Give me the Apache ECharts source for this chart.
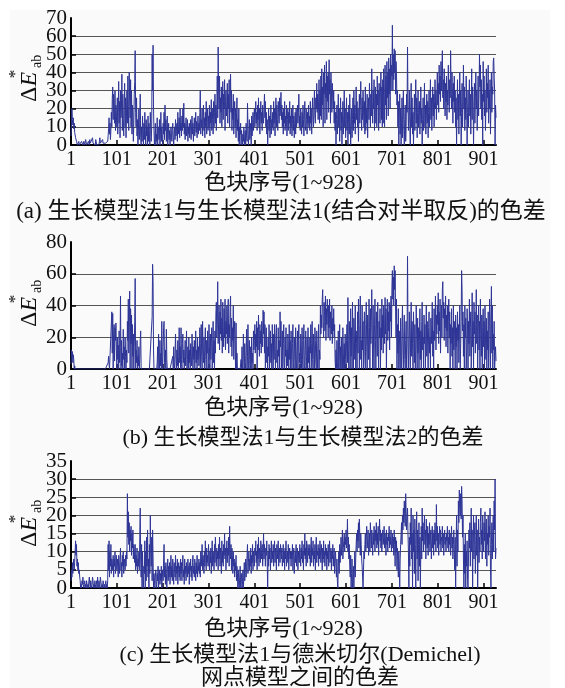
<!DOCTYPE html>
<html>
<head>
<meta charset="utf-8">
<script src="https://cdn.jsdelivr.net/npm/echarts@6/dist/echarts.min.js"></script>
<style>
html, body { margin: 0; padding: 0; background: #fff; }
#main { width: 565px; height: 688px; }
</style>
</head>
<body>
<div id="main"></div>
<script>
// 色块序号 1~928
var blockIds = [];
for (var i = 1; i <= 928; i++) blockIds.push(String(i));

// (a) 生长模型法1与生长模型法1(结合对半取反)
var dEa = [
  5,12,20,14,11,15,9,12,7,8,4,5,2,1,0,1,0,2,0,1,
  0,1,0,2,3,1,0,0,2,1,0,1,3,2,0,1,0,0,2,1,
  0,3,1,0,1,2,0,4,1,0,0,2,1,0,3,2,0,1,0,0,
  1,0,2,4,1,0,0,1,0,3,1,0,0,2,0,1,0,0,1,0,
  2,5,9,15,6,12,3,8,18,10,25,32,14,28,20,12,30,8,22,16,
  10,26,6,18,35,12,24,4,30,15,20,39,8,28,14,5,22,34,10,26,
  4,16,30,12,38,20,8,40,25,15,36,10,30,6,22,18,2,12,28,35,
  52,18,10,26,5,14,0,8,20,3,12,28,4,0,10,2,16,6,0,12,
  3,18,8,0,14,5,10,0,16,2,12,6,0,18,8,2,10,50,30,55,
  20,8,0,4,12,0,6,2,15,0,8,10,3,14,0,6,18,2,10,4,
  0,12,6,18,3,22,8,14,2,10,16,0,5,12,3,8,0,4,10,6,
  2,8,12,4,0,6,10,3,14,5,8,12,2,18,6,10,15,4,20,8,
  12,5,16,8,20,10,23,6,12,3,10,15,5,8,14,2,10,6,12,4,
  8,14,3,10,16,6,12,2,9,15,5,11,18,7,13,4,10,16,6,12,
  8,18,30,6,14,10,20,5,12,22,8,15,4,18,10,24,6,14,20,8,
  16,10,22,5,18,12,25,8,20,14,6,24,10,18,28,12,22,8,20,38,
  15,54,30,20,38,12,26,18,32,10,22,35,14,28,20,36,8,24,30,16,
  22,34,12,28,20,36,10,26,39,18,30,8,20,14,28,6,18,24,10,20,
  4,16,26,8,14,2,20,0,10,6,12,0,8,3,0,6,2,10,0,4,
  8,0,12,5,2,23,10,0,6,14,3,8,12,0,16,5,10,18,8,14,
  20,10,16,24,12,18,8,22,14,26,10,20,6,16,24,12,18,8,22,15,
  12,20,28,15,24,10,18,6,14,0,10,20,8,16,4,12,22,6,14,10,
  18,8,24,12,20,5,16,26,10,22,14,8,24,18,12,26,16,20,29,14,
  22,10,18,6,20,12,24,8,16,10,22,5,14,20,8,18,12,24,6,16,
  10,20,5,14,22,8,16,4,12,18,6,20,10,15,22,12,18,28,10,16,
  8,20,12,6,18,10,22,14,5,16,24,10,8,20,14,6,18,12,22,10,
  16,8,24,12,20,6,18,26,14,10,22,30,16,12,26,20,34,18,28,14,
  24,36,12,30,16,38,14,42,22,32,10,40,28,44,12,34,26,46,14,38,
  24,40,18,47,28,36,12,40,30,18,34,26,20,30,12,24,8,18,0,14,
  22,6,16,28,10,20,2,14,26,8,18,0,12,24,6,16,30,10,20,4,
  14,26,8,18,0,12,22,6,28,16,0,10,20,4,14,26,8,30,12,22,
  6,18,32,14,24,10,20,2,16,28,12,22,35,18,8,26,14,30,20,10,
  24,6,32,8,20,12,28,4,18,26,14,34,22,10,28,16,42,24,12,30,
  20,36,8,26,32,12,28,10,38,22,30,8,34,26,12,30,40,14,32,10,
  36,12,42,28,10,44,22,38,14,46,26,40,16,48,28,42,20,50,30,44,
  38,66,30,50,36,53,40,52,28,46,38,22,30,10,24,0,16,28,6,20,
  0,12,26,4,18,30,8,0,14,22,2,10,28,18,54,24,8,16,30,12,
  0,20,34,10,26,6,18,0,14,28,8,22,36,12,26,4,18,30,10,20,
  24,6,16,32,12,20,0,14,26,8,18,34,10,22,6,16,28,12,24,4,
  18,30,10,22,36,14,26,8,20,32,16,28,10,24,36,20,30,14,26,40,
  22,34,18,44,28,38,24,46,30,40,52,26,36,20,42,30,16,34,24,38,
  14,30,22,44,28,18,36,26,52,32,20,40,28,12,34,24,38,18,30,10,
  26,0,20,36,14,28,6,22,40,16,30,0,18,34,10,24,44,20,32,8,
  26,14,38,22,0,18,30,10,24,36,16,28,6,20,42,14,32,24,0,18,
  34,12,26,40,20,30,8,22,38,16,28,50,32,44,20,36,14,28,0,46,
  24,38,16,30,8,22,42,18,34,26,44,12,30,20,36,6,24,40,18,32,
  28,46,48,38,30,0,22,15
];

// (b) 生长模型法1与生长模型法2
var dEb = [
  3,12,8,11,4,9,6,0,2,0,0,0,0,0,0,0,0,0,0,0,
  0,0,0,0,0,0,0,0,0,0,0,0,0,0,0,0,0,0,0,0,
  0,0,0,0,0,0,0,0,0,0,0,0,0,0,0,0,0,0,0,0,
  0,0,0,0,0,0,0,0,0,0,0,0,0,0,0,0,0,0,0,0,
  0,4,8,3,0,0,0,0,0,36,10,35,0,22,28,5,26,18,29,12,
  0,20,6,15,0,24,4,12,46,0,18,2,10,0,25,6,14,0,20,8,
  0,12,4,30,18,44,10,26,49,0,38,16,34,0,28,8,22,0,14,30,
  57,0,12,4,18,0,8,2,14,0,6,18,24,0,0,0,0,0,0,0,
  0,0,0,0,0,0,0,0,0,0,0,0,0,0,0,0,0,33,66,55,
  12,0,0,0,0,0,0,0,4,14,0,22,6,0,18,2,10,0,30,8,
  0,14,26,30,4,0,12,0,25,6,0,0,0,0,0,0,0,0,0,0,
  0,0,8,0,14,4,0,10,22,6,0,12,2,18,0,8,26,4,14,0,
  26,6,0,16,22,4,12,0,8,18,2,10,24,0,6,14,0,20,4,12,
  0,16,8,2,22,10,0,14,6,18,0,8,24,4,12,0,20,6,14,2,
  10,26,0,16,28,8,0,30,12,4,20,0,14,26,6,0,18,10,24,0,
  8,28,14,0,22,6,16,26,0,12,30,4,18,0,24,10,34,42,20,28,
  55,16,30,40,12,36,22,44,18,32,10,42,26,14,38,20,44,12,30,22,
  40,16,34,44,10,28,20,38,46,14,32,8,26,18,40,6,22,30,12,0,
  29,0,10,0,0,0,0,0,0,0,0,6,0,14,2,0,22,8,0,16,
  4,0,12,25,0,8,28,2,0,18,6,0,14,0,20,4,10,0,24,12,
  18,28,10,22,14,30,0,26,12,34,18,8,28,16,24,10,30,20,14,37,
  22,36,10,28,0,18,26,4,14,0,20,8,28,0,12,24,4,16,0,28,
  10,0,22,6,28,14,0,20,28,4,12,0,26,8,18,0,36,14,30,0,
  10,24,0,16,28,4,0,20,8,26,0,12,2,22,14,0,28,6,18,0,
  24,10,0,16,28,4,0,20,12,0,26,6,0,14,24,0,18,28,4,10,
  0,22,14,0,26,6,0,18,28,2,0,12,24,0,8,20,0,26,4,14,
  0,20,10,28,0,16,30,6,0,22,12,0,26,18,4,0,24,10,0,16,
  28,0,12,6,40,22,34,26,44,50,30,20,42,36,24,46,18,38,28,44,
  32,20,40,26,44,18,36,28,22,40,16,32,24,38,20,28,6,0,12,0,
  18,4,0,24,0,8,28,0,14,0,20,2,0,26,10,0,16,0,22,6,
  0,18,28,4,45,12,0,30,20,0,38,8,26,0,42,14,0,32,20,6,
  40,0,24,16,0,36,10,44,22,0,28,46,6,18,0,40,12,30,0,24,
  36,8,0,28,42,14,0,34,20,6,44,26,0,38,16,30,50,22,0,40,
  12,0,28,44,18,0,36,24,8,42,14,0,30,20,38,0,26,12,44,20,
  34,10,40,28,16,45,22,38,0,30,44,18,36,24,42,12,40,30,46,20,
  52,62,44,58,40,65,50,62,36,20,44,0,28,10,38,0,24,14,0,32,
  8,0,26,40,12,0,22,34,6,0,18,30,0,16,71,28,0,12,36,20,
  0,24,42,8,30,16,0,36,20,4,28,0,14,40,22,0,32,10,26,0,
  18,38,6,24,0,30,42,12,20,0,34,16,28,0,22,40,8,30,14,0,
  26,36,10,20,0,32,16,28,42,8,24,0,38,18,30,46,12,34,22,40,
  28,48,16,36,24,44,10,30,40,20,50,55,32,42,18,38,26,46,14,34,
  24,40,10,30,44,20,36,0,28,16,38,8,26,0,40,12,30,20,0,34,
  14,26,0,36,18,28,4,22,40,0,16,30,62,50,24,36,8,28,0,40,
  20,32,0,12,38,24,0,30,16,44,8,26,36,0,20,48,14,30,0,42,
  22,36,10,28,50,16,34,0,24,40,12,30,0,44,20,8,34,0,26,38,
  14,30,0,40,20,6,32,0,24,12,36,0,18,44,28,0,34,52,10,40,
  0,22,12,30,0,8,14,5
];

// (c) 生长模型法1与德米切尔(Demichel)网点模型
var dEc = [
  2,5,3,7,4,6,8,5,7,10,13,9,12,6,8,5,7,4,5,3,
  2,0,1,0,2,1,3,1,0,1,2,0,1,0,2,1,0,1,0,2,
  3,1,0,2,1,0,1,3,2,0,1,0,2,1,0,1,2,0,3,1,
  0,2,1,0,3,2,1,0,1,0,2,1,0,1,0,1,2,0,1,0,
  2,12,5,13,3,10,6,12,4,8,7,5,9,3,8,6,10,4,7,9,
  5,8,6,3,9,7,4,8,11,5,7,3,9,6,10,4,8,7,5,9,
  6,10,8,26,14,21,12,18,10,16,13,17,9,15,11,16,8,12,10,7,
  12,5,9,6,11,4,8,6,10,5,14,22,8,3,12,0,10,2,0,6,
  4,13,0,10,2,14,6,16,3,8,0,12,4,20,10,6,14,2,16,8,
  0,4,2,0,3,5,1,0,4,2,6,0,3,5,1,4,2,6,0,3,
  5,2,8,12,3,6,1,7,4,0,5,8,2,6,3,7,1,5,9,3,
  6,2,8,4,1,7,5,3,9,2,6,4,8,1,5,7,3,6,2,8,
  4,7,2,6,9,3,5,1,8,4,6,2,7,5,3,8,4,6,1,7,
  5,8,3,6,2,7,9,4,6,3,8,5,2,7,4,9,3,6,5,8,
  4,7,3,10,6,8,12,5,9,7,4,10,6,13,8,5,11,7,9,6,
  12,8,5,10,7,11,4,9,13,6,10,8,5,12,7,14,9,6,11,8,
  10,5,12,8,14,6,11,9,4,13,7,10,6,12,9,15,8,11,5,10,
  13,7,11,9,14,6,17,10,8,12,5,11,9,4,10,6,8,3,7,5,
  9,2,6,4,0,5,1,0,3,6,0,2,4,0,1,5,0,3,7,2,
  5,8,3,6,9,12,4,7,10,5,8,6,11,4,9,7,12,5,10,8,
  6,11,9,13,7,10,5,12,8,14,6,11,9,7,13,10,8,12,6,9,
  15,8,12,10,6,11,9,13,7,0,10,6,12,8,11,5,9,13,7,10,
  8,12,6,10,13,7,11,9,5,12,8,10,13,6,9,11,7,12,10,8,
  11,6,9,12,7,10,5,11,8,13,6,9,10,7,12,5,9,11,8,10,
  6,10,8,12,5,9,11,4,8,10,7,12,6,9,11,5,10,8,7,12,
  9,6,11,8,13,7,10,5,12,9,15,8,11,6,13,10,7,12,9,11,
  8,12,6,10,14,7,11,9,13,6,10,8,12,5,11,14,7,10,9,12,
  6,11,8,13,10,7,12,9,5,11,8,13,7,10,6,12,9,11,5,10,
  8,12,6,10,13,7,9,11,5,10,8,12,6,9,11,4,8,10,6,3,
  8,2,0,6,10,4,12,7,10,14,9,12,16,8,11,13,15,10,14,12,
  16,11,13,19,10,14,8,12,6,3,9,0,4,8,0,2,6,0,5,10,
  3,8,12,15,10,16,13,18,11,19,14,9,15,12,8,6,3,0,5,10,
  8,12,15,10,14,17,11,13,16,9,12,15,10,18,14,11,16,13,9,15,
  12,17,14,10,16,13,18,11,15,12,17,9,14,19,13,16,11,15,10,14,
  16,12,14,17,11,15,13,9,16,12,14,10,15,13,17,11,14,12,16,10,
  13,15,11,14,9,16,12,6,14,10,13,5,11,8,3,10,6,0,8,12,
  15,18,12,20,16,22,18,24,20,17,26,21,16,19,22,15,10,0,14,6,
  18,12,22,8,15,0,20,10,16,4,19,12,0,14,21,8,16,2,12,18,
  6,14,0,10,17,8,22,13,18,10,15,20,12,16,8,19,14,11,17,9,
  15,12,18,10,14,16,8,13,17,11,15,9,16,12,18,14,10,23,13,17,
  11,15,9,14,17,12,16,10,14,13,17,11,15,9,13,16,12,14,10,15,
  13,17,11,14,10,16,12,15,9,13,17,11,14,8,12,16,10,5,14,0,
  12,20,6,16,10,24,18,27,22,20,26,19,28,24,14,20,8,0,12,4,
  15,0,10,6,13,2,0,8,16,11,18,6,14,22,10,16,0,12,20,8,
  15,18,4,12,20,9,16,0,11,19,7,14,10,18,22,12,16,8,20,14,
  10,18,13,21,8,16,19,6,15,12,20,9,17,14,22,5,0,12,18,8,
  15,20,10,24,16,30,8,11
];

var yMax = [70, 80, 35];
var yStep = [10, 20, 5];
var xName = '色块序号(1~928)';
var captions = [
  '(a) 生长模型法1与生长模型法1(结合对半取反)的色差',
  '(b) 生长模型法1与生长模型法2的色差',
  '(c) 生长模型法1与德米切尔(Demichel)\n网点模型之间的色差'
];

var FONT = "'Liberation Serif', 'Noto Sans CJK SC', serif";
var lineColor = '#2e3596';
var panelTop = [18, 242, 461];
var nameGap = [27, 28, 30];
var seriesData = [dEa, dEb, dEc];

function every100(idx) { return idx % 100 === 0; }

var grids = [], xAxes = [], yAxes = [], series = [];
for (var p = 0; p < 3; p++) {
    grids.push({ left: 71, top: panelTop[p], width: 425, height: 127 });
    xAxes.push({
        type: 'category', gridIndex: p, data: blockIds, boundaryGap: false,
        axisLine: { lineStyle: { color: '#000', width: 2 } },
        axisTick: { inside: true, length: 5, interval: every100, lineStyle: { color: '#000', width: 1.5 } },
        axisLabel: { interval: every100, fontFamily: FONT, fontSize: 20, color: '#111', margin: 5 },
        splitLine: { show: false },
        name: xName, nameLocation: 'middle', nameGap: nameGap[p],
        nameTextStyle: { fontFamily: FONT, fontSize: 22, color: '#111' }
    });
    // 主 y 轴：中间刻度标签
    yAxes.push({
        type: 'value', gridIndex: p, min: 0, max: yMax[p], interval: yStep[p],
        axisLine: { show: true, lineStyle: { color: '#000', width: 2 } },
        axisTick: { show: true, inside: true, length: 5, lineStyle: { color: '#000', width: 1.5 } },
        axisLabel: {
            fontFamily: FONT, fontSize: 21, color: '#111', margin: 4,
            showMinLabel: false, showMaxLabel: false
        },
        splitLine: { show: true, showMaxLine: false, lineStyle: { color: '#555', width: 1 } }
    });
    // 叠加 y 轴：只显示两端标签
    (function (top) {
        yAxes.push({
            type: 'value', gridIndex: p, position: 'left', min: 0, max: top, interval: yStep[p],
            axisLine: { show: false }, axisTick: { show: false }, splitLine: { show: false },
            axisLabel: {
                fontFamily: FONT, fontSize: 21, color: '#111', margin: 4,
                showMinLabel: true, showMaxLabel: true,
                formatter: function (v) { return (v === 0 || v === top) ? String(v) : ''; }
            }
        });
    })(yMax[p]);
    series.push({
        type: 'line', xAxisIndex: p, yAxisIndex: 2 * p, data: seriesData[p],
        showSymbol: false, symbol: 'none', sampling: null,
        lineStyle: { color: lineColor, width: 1 }
    });
}

// y 轴标题 ΔE*ab
var labelY = [102, 327, 547];
var graphics = [{
    type: 'rect', z: -10, shape: { x: 10, y: 10, width: 540, height: 678 },
    style: { fill: '#fafafa' }
}];
for (var k = 0; k < 3; k++) {
    graphics.push({
        type: 'text', x: 30, y: labelY[k], rotation: Math.PI / 2,
        style: {
            text: '{d|Δ}{e|E}', textAlign: 'left', textVerticalAlign: 'middle',
            rich: {
                d: { fontFamily: FONT, fontSize: 24, fill: '#111' },
                e: { fontFamily: FONT, fontSize: 24, fontStyle: 'italic', fill: '#111' }
            }
        }
    });
    graphics.push({
        type: 'text', x: 37, y: labelY[k] - 34, rotation: Math.PI / 2,
        style: { text: 'ab', fontFamily: FONT, fontSize: 14, fill: '#111', textAlign: 'left', textVerticalAlign: 'middle' }
    });
    graphics.push({
        type: 'text', x: 16, y: labelY[k] - 28, rotation: Math.PI / 2,
        style: { text: '*', fontFamily: FONT, fontSize: 17, fill: '#111', textAlign: 'center', textVerticalAlign: 'middle' }
    });
}
var capPos = [[281, 212], [303, 438], [300, 667]];
var capSize = [23, 22, 22];
for (var c = 0; c < 3; c++) {
    graphics.push({
        type: 'text', x: capPos[c][0], y: capPos[c][1],
        style: {
            text: captions[c], fontFamily: FONT, fontSize: capSize[c], fill: '#111',
            textAlign: 'center', textVerticalAlign: 'middle', lineHeight: 23
        }
    });
}

var myChart = echarts.init(document.getElementById('main'));
myChart.setOption({
    animation: false,
    grid: grids,
    xAxis: xAxes,
    yAxis: yAxes,
    series: series,
    graphic: graphics
});
</script>
</body>
</html>
